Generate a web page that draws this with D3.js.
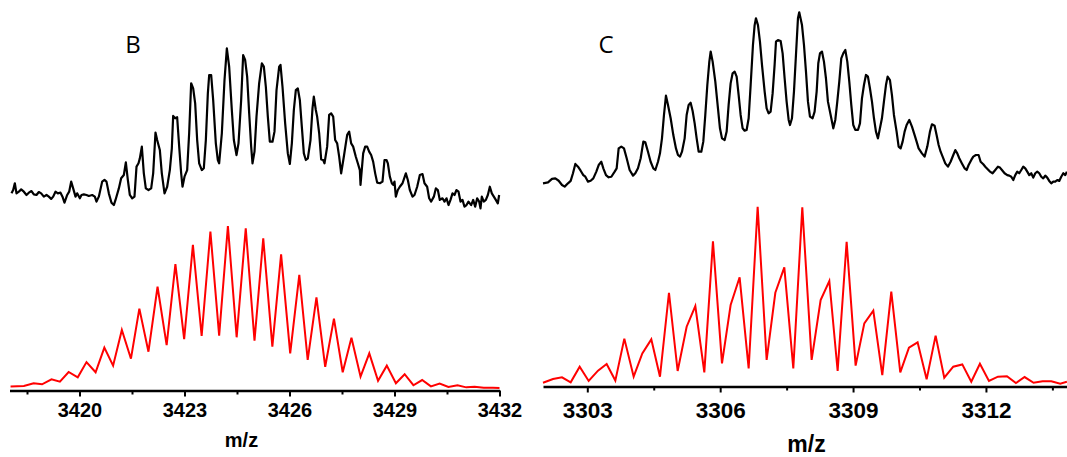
<!DOCTYPE html>
<html>
<head>
<meta charset="utf-8">
<script src="https://cdn.jsdelivr.net/npm/d3@7"></script>
<style>
  html, body { margin: 0; padding: 0; background: #fff; }
  svg { display: block; }
  .tick text { font-family: "Liberation Sans", Arial, sans-serif; font-weight: bold; fill: #000; }
  .axis-title { font-family: "Liberation Sans", Arial, sans-serif; font-weight: bold; fill: #000; }
  .panel-label { font-family: "Open Sans", "Noto Sans", sans-serif; fill: #000; }
</style>
</head>
<body>
<svg id="chart" width="1067" height="457"></svg>
<script>
// ---- Panel B: m/z 3418–3432, charge 2 envelope ----
const mzB_exp = [3418.057,3418.105,3418.152,3418.200,3418.267,3418.333,3418.410,3418.486,3418.552,3418.629,3418.695,3418.771,3418.838,3418.905,3418.981,3419.057,3419.124,3419.190,3419.248,3419.314,3419.381,3419.457,3419.514,3419.571,3419.648,3419.705,3419.762,3419.819,3419.886,3419.933,3420.010,3420.057,3420.124,3420.200,3420.267,3420.362,3420.438,3420.486,3420.552,3420.648,3420.714,3420.771,3420.838,3420.914,3420.981,3421.029,3421.124,3421.190,3421.267,3421.324,3421.381,3421.438,3421.505,3421.571,3421.629,3421.686,3421.724,3421.781,3421.838,3421.895,3421.971,3422.048,3422.105,3422.171,3422.219,3422.295,3422.352,3422.429,3422.505,3422.581,3422.638,3422.676,3422.733,3422.790,3422.848,3422.905,3422.943,3423.000,3423.076,3423.133,3423.190,3423.248,3423.305,3423.362,3423.419,3423.495,3423.552,3423.610,3423.667,3423.705,3423.762,3423.819,3423.895,3423.952,3423.990,3424.067,3424.143,3424.210,3424.276,3424.352,3424.410,3424.486,3424.543,3424.619,3424.676,3424.733,3424.790,3424.848,3424.905,3424.943,3425.000,3425.057,3425.133,3425.210,3425.267,3425.324,3425.381,3425.438,3425.514,3425.571,3425.629,3425.705,3425.743,3425.800,3425.876,3425.952,3426.010,3426.067,3426.124,3426.181,3426.238,3426.295,3426.352,3426.410,3426.467,3426.524,3426.600,3426.657,3426.695,3426.752,3426.790,3426.848,3426.905,3426.962,3427.000,3427.076,3427.133,3427.190,3427.248,3427.305,3427.362,3427.419,3427.476,3427.552,3427.610,3427.648,3427.705,3427.762,3427.819,3427.895,3427.952,3428.010,3428.029,3428.105,3428.162,3428.219,3428.276,3428.333,3428.390,3428.448,3428.505,3428.581,3428.657,3428.714,3428.771,3428.810,3428.867,3428.924,3428.962,3429.000,3429.038,3429.095,3429.152,3429.229,3429.324,3429.381,3429.438,3429.514,3429.571,3429.648,3429.724,3429.800,3429.857,3429.933,3429.990,3430.048,3430.124,3430.181,3430.238,3430.295,3430.371,3430.429,3430.486,3430.543,3430.600,3430.657,3430.714,3430.771,3430.829,3430.886,3430.943,3431.000,3431.057,3431.114,3431.190,3431.248,3431.305,3431.362,3431.419,3431.457,3431.495,3431.552,3431.610,3431.667,3431.724,3431.781,3431.838,3431.895,3431.952,3431.990];
const intB_exp = [10.1,12.1,16.2,10.1,11.1,12.5,11.1,9.1,10.5,11.5,9.5,9.1,10.9,10.1,8.1,9.1,8.1,6.7,8.1,11.1,10.1,10.5,8.1,4.4,9.1,11.1,17.2,13.1,8.1,10.1,7.1,9.1,9.5,9.1,8.5,9.1,8.1,5.1,8.1,17.2,18.2,17.2,10.1,4.4,3.0,6.1,13.1,19.2,21.2,28.9,18.2,9.1,7.1,8.1,26.3,28.3,31.3,38.4,22.2,13.1,12.1,13.1,22.2,46.9,42.4,36.4,22.2,10.1,14.1,24.2,37.4,57.0,55.6,56.2,38.4,22.2,14.1,20.2,24.2,46.5,76.8,73.7,64.6,42.4,28.3,24.2,25.3,42.4,70.7,81.8,81.8,66.7,40.4,30.3,28.3,46.5,78.8,98.0,86.9,60.6,42.4,33.3,40.4,66.7,93.9,90.9,80.8,58.6,38.4,28.3,35.4,56.6,76.8,88.9,86.9,74.7,56.6,41.4,41.4,47.5,72.7,86.9,87.9,74.7,52.5,34.3,27.9,40.4,60.6,72.7,73.7,66.7,50.5,34.3,30.3,31.3,42.4,61.6,68.7,60.6,56.6,46.5,30.7,30.3,28.3,38.4,57.6,58.6,56.6,42.4,40.4,32.3,22.2,32.3,40.4,45.5,47.5,40.4,38.4,32.3,28.3,24.2,15.2,34.3,38.4,38.4,35.4,33.3,29.3,22.2,16.6,16.2,17.2,30.3,30.3,28.3,20.2,16.2,15.2,17.2,8.1,12.1,14.1,16.2,22.2,18.2,12.1,8.1,9.1,14.1,21.2,21.8,16.2,14.1,7.1,5.1,8.1,13.1,12.1,6.1,7.1,5.1,7.1,3.0,6.1,10.1,9.1,12.1,11.1,5.1,6.1,2.0,3.0,5.1,3.0,6.1,2.0,7.1,5.1,1.0,8.1,5.1,6.1,9.1,14.1,10.1,8.1,6.1,4.0,9.1];

const mzB_sim = [3418.03,3418.41,3418.69,3418.93,3419.20,3419.44,3419.69,3419.95,3420.20,3420.46,3420.71,3420.96,3421.21,3421.47,3421.71,3421.97,3422.23,3422.49,3422.74,3422.99,3423.24,3423.49,3423.74,3423.99,3424.24,3424.49,3424.75,3425.00,3425.25,3425.51,3425.76,3426.02,3426.28,3426.52,3426.77,3427.02,3427.27,3427.52,3427.77,3428.03,3428.28,3428.53,3428.78,3429.04,3429.29,3429.54,3429.79,3430.04,3430.29,3430.54,3430.80,3431.05,3431.29,3431.55,3431.81,3432.00];
const intB_sim = [1.0,1.2,2.9,2.3,5.4,3.9,9.9,6.6,16.0,9.7,24.9,13.8,35.8,18.1,49.0,22.4,62.5,26.5,76.5,30.1,88.3,32.1,96.5,32.3,100,31.3,98.6,29.2,92.4,25.5,82.5,21.4,69.8,17.3,56.0,13.1,42.8,9.7,31.0,7.0,21.4,4.5,13.8,2.9,8.5,1.7,4.9,1.0,2.7,0.6,1.7,0.4,0.8,0.2,0.2,0];

const ticksB = [3420, 3423, 3426, 3429, 3432];
const minorTicksB = [3418.5, 3421.5, 3424.5, 3427.5, 3430.5];

// ---- Panel C: m/z 3302–3314 ----
const mzC_exp = [3302.000,3302.113,3302.203,3302.278,3302.354,3302.429,3302.489,3302.564,3302.625,3302.677,3302.730,3302.790,3302.850,3302.910,3302.956,3303.016,3303.076,3303.136,3303.204,3303.257,3303.317,3303.362,3303.422,3303.482,3303.543,3303.618,3303.663,3303.708,3303.768,3303.828,3303.889,3303.956,3304.032,3304.084,3304.144,3304.205,3304.265,3304.310,3304.370,3304.430,3304.491,3304.536,3304.596,3304.641,3304.686,3304.731,3304.776,3304.822,3304.882,3304.942,3305.002,3305.047,3305.093,3305.138,3305.198,3305.243,3305.288,3305.333,3305.378,3305.424,3305.469,3305.514,3305.574,3305.619,3305.664,3305.710,3305.755,3305.785,3305.830,3305.890,3305.950,3305.995,3306.041,3306.101,3306.146,3306.191,3306.236,3306.281,3306.327,3306.372,3306.417,3306.462,3306.507,3306.552,3306.597,3306.643,3306.688,3306.740,3306.778,3306.808,3306.853,3306.898,3306.944,3307.004,3307.049,3307.094,3307.139,3307.184,3307.229,3307.260,3307.305,3307.365,3307.410,3307.455,3307.500,3307.546,3307.576,3307.621,3307.666,3307.711,3307.756,3307.785,3307.847,3307.892,3307.937,3307.982,3308.027,3308.087,3308.132,3308.178,3308.215,3308.253,3308.298,3308.343,3308.388,3308.433,3308.494,3308.554,3308.599,3308.644,3308.689,3308.734,3308.779,3308.825,3308.870,3308.915,3308.960,3309.005,3309.050,3309.111,3309.156,3309.201,3309.246,3309.291,3309.336,3309.381,3309.427,3309.472,3309.517,3309.562,3309.607,3309.652,3309.697,3309.743,3309.780,3309.833,3309.878,3309.923,3309.983,3310.029,3310.074,3310.119,3310.164,3310.209,3310.269,3310.330,3310.390,3310.435,3310.480,3310.555,3310.615,3310.676,3310.736,3310.781,3310.841,3310.886,3310.932,3310.977,3311.022,3311.082,3311.142,3311.202,3311.263,3311.308,3311.353,3311.398,3311.458,3311.518,3311.564,3311.609,3311.669,3311.714,3311.774,3311.834,3311.880,3311.940,3311.985,3312.045,3312.090,3312.150,3312.211,3312.271,3312.316,3312.361,3312.421,3312.482,3312.527,3312.572,3312.617,3312.662,3312.707,3312.752,3312.798,3312.843,3312.888,3312.933,3312.978,3313.023,3313.068,3313.114,3313.159,3313.204,3313.249,3313.294,3313.339,3313.384,3313.429,3313.475,3313.520,3313.565,3313.610,3313.655,3313.700,3313.746,3313.791,3313.828];
const intC_exp = [6.4,6.9,8.8,9.1,7.8,5.5,4.6,6.4,7.7,11.9,17.0,15.5,13.3,10.9,10.0,7.3,7.8,9.1,12.8,16.4,18.2,14.6,10.9,9.7,10.0,12.8,14.6,25.5,26.5,25.5,20.1,13.7,10.6,11.9,14.6,20.1,29.2,28.8,23.7,18.2,14.6,13.7,18.2,22.8,31.0,43.8,54.4,49.3,42.0,32.8,25.5,21.9,21.0,23.7,31.0,43.8,49.3,50.5,46.0,39.2,31.0,23.7,23.7,29.2,43.8,60.2,73.0,78.5,73.0,62.0,47.4,36.5,31.0,30.1,34.7,49.3,61.1,66.6,67.5,64.8,54.7,43.8,36.5,35.2,35.6,42.0,60.2,82.1,93.0,96.7,93.0,83.9,71.2,56.6,47.4,44.7,45.6,55.6,71.2,83.9,84.8,84.3,77.5,63.9,51.1,41.1,38.3,42.0,56.6,76.6,96.7,100,93.0,82.1,67.5,51.1,42.9,42.0,45.6,56.6,72.1,77.5,78.5,73.0,63.9,51.1,43.8,36.5,41.1,51.1,62.0,74.8,77.5,79.4,73.0,62.0,49.3,38.3,35.6,35.6,39.2,52.9,60.2,65.7,64.8,58.4,51.1,42.0,34.7,31.0,36.5,42.0,51.1,60.2,64.8,62.9,54.7,43.8,34.7,26.5,25.5,29.2,34.7,38.3,41.1,37.4,32.8,29.2,25.5,22.8,21.0,26.5,34.7,38.7,37.9,32.8,27.4,23.7,21.0,17.3,15.5,18.2,21.9,24.6,22.8,20.1,17.3,14.6,13.7,16.4,19.2,21.0,21.9,21.9,18.2,16.8,15.5,14.0,12.8,11.9,13.7,15.5,15.0,13.7,11.9,10.9,10.6,10.0,8.2,10.9,12.8,11.9,13.7,15.5,14.6,12.8,10.9,11.9,9.5,11.9,12.8,11.9,10.0,9.1,10.6,9.5,7.7,6.4,7.3,7.3,8.2,7.7,10.0,11.9,10.9,12.8];

const mzC_sim = [3302.000,3302.226,3302.429,3302.625,3302.828,3303.031,3303.242,3303.437,3303.633,3303.836,3304.047,3304.242,3304.445,3304.641,3304.844,3305.040,3305.243,3305.439,3305.642,3305.837,3306.041,3306.236,3306.439,3306.643,3306.846,3307.049,3307.245,3307.448,3307.651,3307.854,3308.065,3308.268,3308.464,3308.652,3308.855,3309.058,3309.254,3309.457,3309.660,3309.863,3310.066,3310.262,3310.457,3310.661,3310.864,3311.059,3311.262,3311.466,3311.669,3311.864,3312.068,3312.271,3312.474,3312.677,3312.873,3313.076,3313.279,3313.475,3313.678,3313.828];
const intC_sim = [1.0,3.1,4.0,1.2,10.0,2.0,7.8,11.5,2.2,25.8,4.4,17.5,25.4,4.4,51.6,7.6,32.5,44.1,6.8,80.5,11.9,44.7,60.3,9.1,100,13.8,51.6,65.9,9.1,99.6,13.8,47.5,58.2,7.6,80.3,10.6,34.4,41.5,5.3,52.2,6.8,20.7,23.7,2.9,27.5,3.8,10.0,11.3,1.6,11.7,2.0,4.4,4.6,0.8,4.2,1.0,1.8,1.8,0.5,1.6];

const ticksC = [3303, 3306, 3309, 3312];
const minorTicksC = [3304.5, 3307.5, 3310.5, 3313.5];

const panelLabels = ["B", "C"];
const axisTitle = "m/z";

// ---- drawing ----
const svg = d3.select("#chart");
svg.append("rect").attr("width", 1067).attr("height", 457).attr("fill", "#fff");

const panels = [
  {
    label: panelLabels[0], labelPos: [133, 53], labelSize: 24,
    x: d3.scaleLinear().domain([3418, 3432]).range([9.5, 499.5]),
    yExp: d3.scaleLinear().domain([0, 100]).range([210, 45]),
    ySim: d3.scaleLinear().domain([0, 100]).range([388, 226]),
    exp: mzB_exp.map((m, i) => [m, intB_exp[i]]),
    sim: mzB_sim.map((m, i) => [m, intB_sim[i]]),
    ticks: ticksB, minor: minorTicksB,
    axisY: 390.5, fontSize: 20, pad: 6, titlePos: [241.5, 447], titleSize: 20
  },
  {
    label: panelLabels[1], labelPos: [606, 53], labelSize: 24,
    x: d3.scaleLinear().domain([3302, 3313.83]).range([543, 1067]),
    yExp: d3.scaleLinear().domain([0, 100]).range([195, 12.3]),
    ySim: d3.scaleLinear().domain([0, 100]).range([384.5, 206.7]),
    exp: mzC_exp.map((m, i) => [m, intC_exp[i]]),
    sim: mzC_sim.map((m, i) => [m, intC_sim[i]]),
    ticks: ticksC, minor: minorTicksC,
    axisY: 386.5, fontSize: 22.5, pad: 10, titlePos: [806.5, 452], titleSize: 23
  }
];

panels.forEach(p => {
  const g = svg.append("g");

  // measured spectrum (black) and simulated isotope pattern (red)
  const lineExp = d3.line().x(d => p.x(d[0])).y(d => p.yExp(d[1]));
  const lineSim = d3.line().x(d => p.x(d[0])).y(d => p.ySim(d[1]));

  g.append("path").datum(p.exp)
    .attr("d", lineExp).attr("fill", "none")
    .attr("stroke", "#000").attr("stroke-width", 2.2)
    .attr("stroke-linejoin", "round");

  g.append("path").datum(p.sim)
    .attr("d", lineSim).attr("fill", "none")
    .attr("stroke", "#ff0000").attr("stroke-width", 2)
    .attr("stroke-linejoin", "miter");

  // minor ticks
  const minorAxis = d3.axisBottom(p.x).tickValues(p.minor).tickSize(4).tickSizeOuter(0).tickFormat("");
  const ga = g.append("g").attr("transform", `translate(0,${p.axisY})`).call(minorAxis);
  ga.select(".domain").remove();
  ga.selectAll(".tick line").attr("stroke", "#000").attr("stroke-width", 2);

  // major ticks + labels
  const majorAxis = d3.axisBottom(p.x).tickValues(p.ticks).tickSize(6).tickSizeOuter(0)
    .tickPadding(p.pad).tickFormat(d3.format("d"));
  const gm = g.append("g").attr("transform", `translate(0,${p.axisY})`).call(majorAxis);
  gm.select(".domain").attr("stroke", "#000").attr("stroke-width", 2.6);
  gm.selectAll(".tick line").attr("stroke", "#000").attr("stroke-width", 2);
  gm.selectAll(".tick text").attr("font-size", p.fontSize);

  g.append("text").attr("class", "axis-title")
    .attr("x", p.titlePos[0]).attr("y", p.titlePos[1])
    .attr("text-anchor", "middle").attr("font-size", p.titleSize)
    .text(axisTitle);

  g.append("text").attr("class", "panel-label")
    .attr("x", p.labelPos[0]).attr("y", p.labelPos[1])
    .attr("text-anchor", "middle").attr("font-size", p.labelSize)
    .text(p.label);
});
</script>
</body>
</html>
